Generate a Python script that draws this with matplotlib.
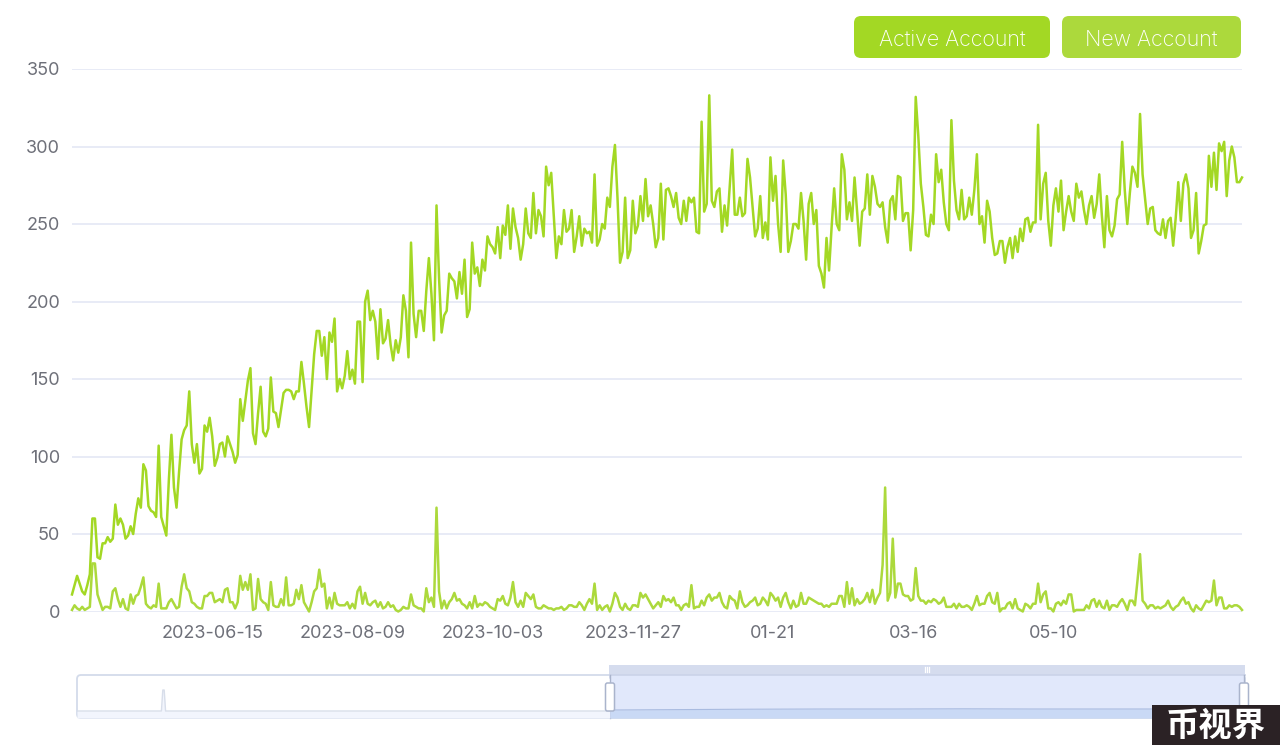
import numpy as np
import matplotlib
matplotlib.use("Agg")
import matplotlib.pyplot as plt
from matplotlib.patches import FancyBboxPatch, Rectangle
from matplotlib.transforms import ScaledTranslation

plt.rcParams['font.family'] = ['Inter', 'DejaVu Sans']

active_account = [
11,17,23,18,13,11,17,24,60,60,35,34,44,44,48,45,47,69,56,60,56,47,49,55,50,63,73,67,95,91,68,65,64,61,
107,61,55,49,85,114,80,67,90,111,117,120,142,108,96,108,89,92,120,116,125,113,94,99,108,109,100,113,108,103,96,101,
137,123,136,149,157,115,108,128,145,116,113,118,151,129,128,119,130,141,143,143,142,137,142,142,161,147,132,119,143,166,
181,181,165,177,150,180,174,189,142,150,144,152,168,150,156,147,187,187,148,200,207,188,194,187,163,195,173,176,188,172,
162,175,167,177,204,194,164,238,192,177,194,194,181,207,228,205,175,262,215,180,191,194,
218,215,213,202,219,205,227,190,195,238,218,222,210,227,220,242,237,235,231,248,228,249,243,262,234,260,248,241,227,237,
260,244,241,270,244,259,255,242,287,275,283,256,228,242,237,259,245,247,259,232,242,255,236,247,244,245,238,282,236,240,
250,247,267,261,287,301,267,225,232,267,228,233,265,244,249,268,252,279,255,262,250,235,241,276,240,272,273,268,261,270,
254,250,265,252,267,264,267,245,244,316,258,263,333,265,261,271,273,245,262,249,274,298,256,256,267,255,257,292,280,261,
242,247,268,241,251,240,293,265,281,250,232,291,269,232,239,250,250,247,270,252,227,263,270,250,259,223,218,209,241,220,
248,273,250,246,
295,285,253,264,252,280,258,236,258,260,282,256,281,274,263,261,264,248,238,265,268,253,281,280,252,257,257,233,259,332,
307,276,261,243,242,256,250,295,277,285,264,250,246,317,278,259,253,272,253,255,267,256,272,295,250,255,238,265,258,241,
230,231,239,239,225,235,241,228,242,232,247,239,253,254,245,251,251,314,253,276,283,252,236,262,273,258,278,246,258,268,
258,252,276,267,271,259,250,262,268,254,263,282,256,235,268,246,242,249,266,269,303,272,250,270,287,283,274,321,282,266,
250,260,261,246,244,243,253,241,252,254,236,254,277,252,276,282,273,241,246,270,231,239,249,250,294,274,296,272,302,297,
303,268,291,300,293,277,277,280]

new_account = [
1,4,2,1,3,1,2,3,31,31,11,6,1,3,3,2,13,15,8,3,8,2,1,11,5,10,11,16,22,5,3,2,4,3,
18,2,2,2,6,8,5,2,3,16,24,15,13,6,5,3,2,2,10,10,12,12,6,7,8,6,14,15,6,6,2,6,23,14,19,14,24,1,2,21,8,6,5,1,19,4,3,3,8,4,
22,4,4,5,14,8,17,6,3,0,6,13,15,27,16,18,2,9,2,12,5,4,4,4,6,2,5,2,13,16,5,12,5,4,6,7,3,6,2,3,6,3,4,1,0,1,3,2,2,11,4,3,2,2,0,
15,6,9,3,67,13,2,7,2,6,8,12,7,8,5,4,2,6,2,10,3,5,4,6,5,3,2,1,8,7,10,5,4,9,19,6,3,7,3,12,10,8,11,3,2,2,4,3,2,2,1,2,2,3,1,2,
4,4,3,3,6,4,1,5,8,5,18,1,4,1,3,4,0,5,12,9,3,1,5,2,1,4,4,3,12,9,11,8,5,2,4,6,3,10,7,8,6,9,4,4,1,4,5,3,17,2,3,3,7,4,9,11,7,9,9,
12,6,3,2,10,8,7,2,13,6,3,4,6,7,9,4,5,9,7,4,12,10,7,9,3,9,12,6,2,7,3,4,12,5,5,9,8,7,6,5,5,3,4,3,5,5,5,10,
10,3,19,5,15,4,8,5,6,8,12,6,14,5,9,12,30,80,7,12,47,9,18,18,11,10,10,7,8,28,10,7,7,5,7,6,8,7,5,6,9,3,3,3,5,2,5,3,3,4,3,1,5,10,
4,5,5,10,12,6,5,12,0,2,2,5,6,2,8,2,1,0,5,4,2,5,5,18,6,11,13,2,2,0,5,6,4,7,5,11,11,0,1,1,1,1,4,2,7,8,3,7,3,2,7,1,4,4,3,6,8,
5,1,7,7,4,20,37,7,5,2,4,4,2,3,2,3,4,7,3,1,3,4,7,9,5,6,2,0,4,2,1,4,7,6,7,20,4,9,9,2,2,4,3,4,4,3,1]

tick_labels = ["2023-06-15", "2023-08-09", "2023-10-03", "2023-11-27", "01-21", "03-16", "05-10"]
tick_positions = [55, 110, 165, 220, 275, 330, 385]
y_ticks = [0, 50, 100, 150, 200, 250, 300, 350]
legend_names = ["Active Account", "New Account"]

overview_left_days = [0, 40, 61, 62, 63, 64, 200, 300, 385]
overview_left_values = [7, 7, 7, 28, 28, 7, 7, 7, 7]
overview_right_values = [8, 8.4, 8.8, 9, 9, 9.2, 9, 9, 9, 8.6]

if len(active_account) != 460 or len(new_account) != 460:
    raise ValueError(f"lengths {len(active_account)} {len(new_account)}")

ACTIVE = "#a3d824"
NEW = "#acd93c"
GRID = "#e2e5f4"
TEXT = "#6e7079"
W, H = 1280, 745

fig = plt.figure(figsize=(12.8, 7.45), dpi=100, facecolor="white")
ax = fig.add_axes([72/W, 1-611.5/H, (1242-72)/W, (611.5-69)/H])
x = np.arange(len(active_account))
ax.plot(x, active_account, color=ACTIVE, lw=1.8, solid_joinstyle='round', zorder=3, clip_on=False)
ax.plot(x, new_account, color=NEW, lw=1.8, solid_joinstyle='round', zorder=4, clip_on=False)
ax.set_xlim(0, 459)
ax.set_ylim(0, 350)
ax.set_yticks(y_ticks)
ax.set_xticks(tick_positions)
ax.set_xticklabels(tick_labels)
ax.grid(axis='y', color=GRID, lw=1.1)
ax.set_axisbelow(True)
for s in ax.spines.values():
    s.set_visible(False)
ax.tick_params(axis='both', length=0, labelcolor=TEXT, labelsize=13)
ax.tick_params(axis='y', pad=8.5)
ax.tick_params(axis='x', pad=10)
shift = ScaledTranslation(0, -1.2/72, fig.dpi_scale_trans)
for lab in ax.get_yticklabels():
    lab.set_va('center')
    lab.set_transform(lab.get_transform() + shift)

# overlay in pixel coordinates for the buttons and the range slider
ov = fig.add_axes([0, 0, 1, 1], zorder=1)
ov.set_xlim(0, W)
ov.set_ylim(H, 0)
ov.axis('off')
ov.patch.set_alpha(0)

def rbox(x0, y0, x1, y1, r, fc, ec='none', lw=0, z=2):
    p = FancyBboxPatch((x0+r, y0+r), x1-x0-2*r, y1-y0-2*r,
                       boxstyle=f"round,pad={r},rounding_size={r}",
                       fc=fc, ec=ec, lw=lw, zorder=z, mutation_aspect=1)
    ov.add_patch(p)
    return p

rbox(854, 16, 1050, 58, 7, ACTIVE)
rbox(1062, 16, 1241, 58, 7, NEW)
ov.text(952, 40, legend_names[0], color="white", fontsize=15.4, ha='center', va='center', fontweight='light', zorder=3)
ov.text(1151.5, 40, legend_names[1], color="white", fontsize=15.4, ha='center', va='center', fontweight='light', zorder=3)

# slider frame and selection
rbox(77, 675, 1245, 718, 4, "#ffffff", ec="#d3dbea", lw=1.3, z=2)
ov.add_patch(Rectangle((610, 675), 635, 43, fc="#e1e8fb", ec='none', zorder=2.2))
rbox(609, 665, 1245, 680, 3, "#d5dcee", z=2.1)
ov.add_patch(Rectangle((610, 675), 635, 43, fc="#e1e8fb", ec='none', zorder=2.2))
ov.add_patch(Rectangle((609, 665), 636, 10, fc="#d5dcee", ec='none', zorder=2.3))
ov.plot([610, 1245], [675, 675], color="#cbd3e8", lw=1.2, zorder=2.4)
ov.plot([610, 610], [675, 718], color="#aab4cc", lw=1, zorder=5)
ov.plot([1244, 1244], [675, 718], color="#aab4cc", lw=1, zorder=5)
for gx in (925, 927, 929):
    ov.plot([gx, gx], [667, 672], color="white", lw=0.9, zorder=5)

# overview series inside the slider
mini = fig.add_axes([77/W, 1-718/H, (1245-77)/W, 35/H], zorder=1.5)
mini.patch.set_alpha(0)
mini.axis('off')
mx_right = np.linspace(385, 844, len(overview_right_values))
mini.fill_between(overview_left_days, overview_left_values, 0, color="#f2f5fd", lw=0)
mini.plot(overview_left_days, overview_left_values, color="#d8deea", lw=1)
mini.fill_between(mx_right, overview_right_values, 0, color="#c9d9f5", lw=0)
mini.plot(mx_right, overview_right_values, color="#a9bbe0", lw=0.8)
mini.set_xlim(0, 844)
mini.set_ylim(0, 35)

# handles and watermark on top
top = fig.add_axes([0, 0, 1, 1], zorder=2)
top.set_xlim(0, W)
top.set_ylim(H, 0)
top.axis('off')
top.patch.set_alpha(0)
for hx in (605.5, 1239.5):
    top.add_patch(FancyBboxPatch((hx+2, 685), 5, 24, boxstyle="round,pad=2,rounding_size=2",
                                 fc="white", ec="#aab4cc", lw=1.1, zorder=3))
top.add_patch(Rectangle((1152, 705), 128, 40, fc="#2b2225", ec='none', zorder=6))
top.text(1216, 726, "币视界", family=['Noto Sans CJK SC', 'DejaVu Sans'], fontweight='black',
         color="white", fontsize=24, ha='center', va='center', zorder=7)

fig.savefig("out.png", dpi=100)
